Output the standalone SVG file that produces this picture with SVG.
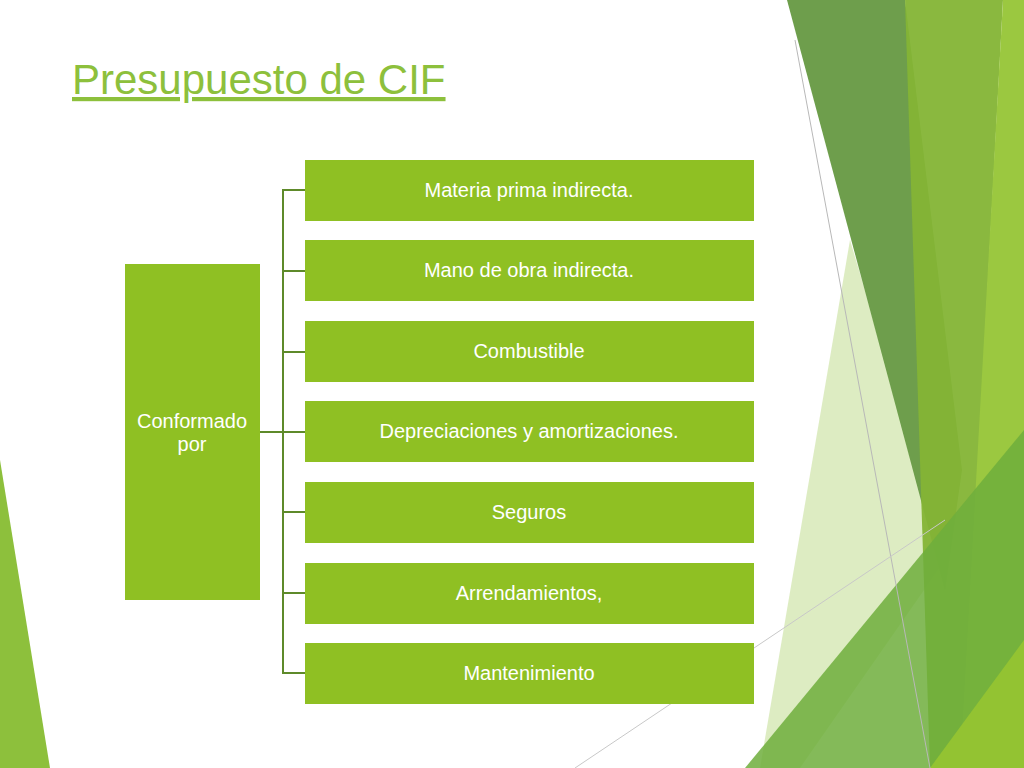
<svg xmlns="http://www.w3.org/2000/svg" width="1024" height="768" viewBox="0 0 1024 768">
<style>
.box{fill:#8fc023}
.t{font-family:"Liberation Sans",Arial,sans-serif;font-size:20px;fill:#fff;text-anchor:middle}
.c{stroke:#5e8a2a;stroke-width:2;fill:none}
</style>
<rect width="1024" height="768" fill="#fff"/>
<g id="decor">
<polygon points="0,460 50,768 0,768" fill="#8dc03c"/>
<polygon points="850,240 945,560 800,768 760,768" fill="#cfe4a8" opacity="0.7"/>
<polygon points="787,0 905,0 962,470 945,590" fill="#6e9e4c"/>
<polygon points="905,0 1003,0 962,768 930,768" fill="#84b435" opacity="0.95"/>
<polygon points="1003,0 1024,0 1024,768 960,768" fill="#9bc840"/>
<polygon points="745,768 1024,430 1024,768" fill="#6fae3c" opacity="0.85"/>
<polygon points="930,768 1024,640 1024,768" fill="#93c332"/>
<line x1="795" y1="40" x2="930" y2="768" stroke="#b8b8b8" stroke-width="1"/>
<line x1="575" y1="768" x2="945" y2="520" stroke="#c8c8c8" stroke-width="1"/>
</g>
<text x="72" y="94" font-family="Liberation Sans,Arial,sans-serif" font-size="42" fill="#8dc03c" text-decoration="underline">Presupuesto de CIF</text>
<g id="connectors" class="c">
<line x1="260" y1="432" x2="305" y2="432"/>
<polyline points="305,190 283,190 283,673 305,673"/>
<line x1="283" y1="271" x2="305" y2="271"/>
<line x1="283" y1="352" x2="305" y2="352"/>
<line x1="283" y1="512" x2="305" y2="512"/>
<line x1="283" y1="593" x2="305" y2="593"/>
</g>
<g id="root"><rect class="box" x="125" y="264" width="135" height="336"/><text class="t" x="192" y="428">Conformado</text><text class="t" x="192" y="451">por</text></g>
<g id="n1"><rect class="box" x="305" y="160" width="449" height="61"/><text class="t" x="529" y="197">Materia prima indirecta.</text></g>
<g id="n2"><rect class="box" x="305" y="240" width="449" height="61"/><text class="t" x="529" y="277">Mano de obra indirecta.</text></g>
<g id="n3"><rect class="box" x="305" y="321" width="449" height="61"/><text class="t" x="529" y="358">Combustible</text></g>
<g id="n4"><rect class="box" x="305" y="401" width="449" height="61"/><text class="t" x="529" y="438">Depreciaciones y amortizaciones.</text></g>
<g id="n5"><rect class="box" x="305" y="482" width="449" height="61"/><text class="t" x="529" y="519">Seguros</text></g>
<g id="n6"><rect class="box" x="305" y="563" width="449" height="61"/><text class="t" x="529" y="600">Arrendamientos,</text></g>
<g id="n7"><rect class="box" x="305" y="643" width="449" height="61"/><text class="t" x="529" y="680">Mantenimiento</text></g>
</svg>
